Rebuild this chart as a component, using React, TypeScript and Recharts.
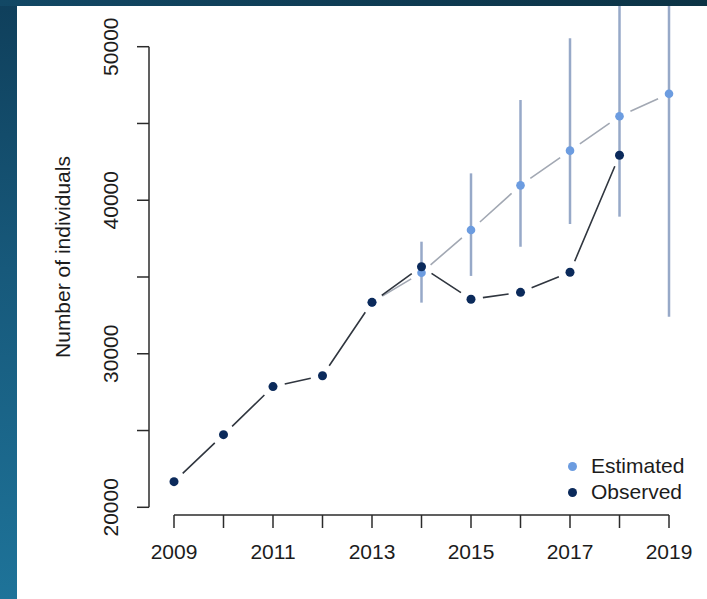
import { ComposedChart, Line, Scatter, XAxis, YAxis, ErrorBar, ReferenceLine } from "recharts"

const years = [2009, 2010, 2011, 2012, 2013, 2014, 2015, 2016, 2017, 2018, 2019]
const observed = [21670, 24730, 27860, 28570, 33350, 35670, 33550, 34000, 35310, 42930, null]
const estimated = [null, null, null, null, 33350, 35280, 38060, 40970, 43230, 45470, 46940]
const estimatedLow = [null, null, null, null, null, 33330, 35070, 36970, 38450, 38930, 32410]
const estimatedHigh = [null, null, null, null, null, 37300, 41750, 46530, 50550, 55500, 62000]
const yTicks = [20000, 25000, 30000, 35000, 40000, 45000, 50000]
const yLabelled = [20000, 30000, 40000, 50000]
const xLabelled = [2009, 2011, 2013, 2015, 2017, 2019]

const legendItems = [
  { name: "Estimated", color: "#6c9ce0" },
  { name: "Observed", color: "#0b2a5b" },
]

// the plot region runs a little past the first/last tick, like base R graphics
const X_MIN = 2008.495
const X_MAX = 2019.404
const Y_MIN = 19498
const Y_MAX = 53042

const data = years.map((year, i) => {
  const est = estimated[i]
  const lo = estimatedLow[i]
  const hi = estimatedHigh[i]
  return {
    year,
    observed: observed[i],
    estimated: est,
    interval: est != null && lo != null && hi != null ? [est - lo, hi - est] : null,
  }
})
const estRows = data.filter((d) => d.estimated != null)
const obsRows = data.filter((d) => d.observed != null)
const barRows = data.filter((d) => d.interval != null)

const FONT = "'Liberation Sans', Arial, sans-serif"
const AXIS = "#2b2b2b"
const TEXT = "#1c1c1c"
const FS = 21

// linear segments that stop short of each point, like type = "b" in base R
const gappedLinear = (gap: number) => (context: any) => {
  let prev: [number, number] | null = null
  return {
    areaStart() {},
    areaEnd() {},
    lineStart() {
      prev = null
    },
    lineEnd() {},
    point(x: number, y: number) {
      x = +x
      y = +y
      if (prev) {
        const dx = x - prev[0]
        const dy = y - prev[1]
        const len = Math.hypot(dx, dy)
        if (len > 2 * gap) {
          const ux = dx / len
          const uy = dy / len
          context.moveTo(prev[0] + ux * gap, prev[1] + uy * gap)
          context.lineTo(x - ux * gap, y - uy * gap)
        }
      }
      prev = [x, y]
    },
  }
}
const gapCurve = gappedLinear(12)

const XTick = (props: any) => {
  const { x, y, payload } = props
  if (!xLabelled.includes(payload.value)) return <g />
  return (
    <text x={x} y={y} dy="0.71em" textAnchor="middle" fontSize={FS} fill={TEXT} fontFamily={FONT}>
      {payload.value}
    </text>
  )
}

const YTick = (props: any) => {
  const { x, y, payload } = props
  if (!yLabelled.includes(payload.value)) return <g />
  return (
    <text x={x} y={y} transform={`rotate(-90 ${x} ${y})`} textAnchor="middle" fontSize={FS} fill={TEXT} fontFamily={FONT}>
      {payload.value}
    </text>
  )
}

const YTitle = () => (
  <text x={70} y={257} transform="rotate(-90 70 257)" textAnchor="middle" fontSize={FS} fill={TEXT} fontFamily={FONT}>
    Number of individuals
  </text>
)

const disc = (r: number, fill: string) => (props: any) => {
  const { cx, cy } = props
  if (cx == null || cy == null) return <g />
  return <circle cx={cx} cy={cy} r={r} fill={fill} />
}

const estShape = disc(4.3, legendItems[0].color)
const obsShape = disc(4.5, legendItems[1].color)
const noShape = () => <g />

export default function App() {
  return (
    <div style={{ position: "absolute", left: 0, top: 0, width: 707, height: 599, overflow: "hidden", background: "#ffffff" }}>
      <ComposedChart width={707} height={599} data={data} margin={{ top: 0, right: 18, bottom: 54, left: 89 }} style={{ fontFamily: FONT }}>
        <XAxis
          type="number"
          dataKey="year"
          domain={[X_MIN, X_MAX]}
          allowDataOverflow
          ticks={years}
          interval={0}
          height={30}
          tickSize={13}
          tickMargin={16}
          axisLine={false}
          tickLine={{ stroke: AXIS, strokeWidth: 1.5 }}
          tick={<XTick />}
        />
        <YAxis
          type="number"
          domain={[Y_MIN, Y_MAX]}
          allowDataOverflow
          ticks={yTicks}
          interval={0}
          width={60}
          tickSize={12}
          tickMargin={19}
          axisLine={false}
          tickLine={{ stroke: AXIS, strokeWidth: 1.5 }}
          tick={<YTick />}
          label={<YTitle />}
        />
        <ReferenceLine segment={[{ x: X_MIN, y: 20000 }, { x: X_MIN, y: 50000 }]} stroke={AXIS} strokeWidth={1.5} ifOverflow="visible" />
        <ReferenceLine segment={[{ x: 2009, y: Y_MIN }, { x: 2019, y: Y_MIN }]} stroke={AXIS} strokeWidth={1.5} ifOverflow="visible" />

        <Line type={gapCurve} dataKey="estimated" stroke="#a2a8b3" strokeWidth={1.6} dot={false} activeDot={false} isAnimationActive={false} />
        <Line type={gapCurve} dataKey="observed" stroke="#30363f" strokeWidth={1.6} dot={false} activeDot={false} isAnimationActive={false} />

        <Scatter data={barRows} dataKey="estimated" shape={noShape} isAnimationActive={false}>
          <ErrorBar dataKey="interval" direction="y" width={0} stroke="#97a9c8" strokeWidth={2.5} isAnimationActive={false} />
        </Scatter>
        <Scatter data={estRows} dataKey="estimated" shape={estShape} isAnimationActive={false} />
        <Scatter data={obsRows} dataKey="observed" shape={obsShape} isAnimationActive={false} />
      </ComposedChart>

      <div style={{ position: "absolute", left: 567.5, top: 453, fontFamily: FONT, fontSize: FS, color: TEXT }}>
        {legendItems.map((item) => (
          <div key={item.name} style={{ display: "flex", alignItems: "center", height: 26 }}>
            <span style={{ width: 9, height: 9, borderRadius: "50%", background: item.color, display: "inline-block" }} />
            <span style={{ marginLeft: 14.5 }}>{item.name}</span>
          </div>
        ))}
      </div>

      <div style={{ position: "absolute", left: 0, top: 0, width: 17, height: 599, background: "linear-gradient(180deg, #0f3f5b 0%, #17597b 45%, #1e7399 100%)" }} />
      <div style={{ position: "absolute", left: 0, top: 0, width: 707, height: 6, background: "linear-gradient(90deg, #124865 0%, #0e3a51 60%, #0c3345 100%)" }} />
    </div>
  )
}
